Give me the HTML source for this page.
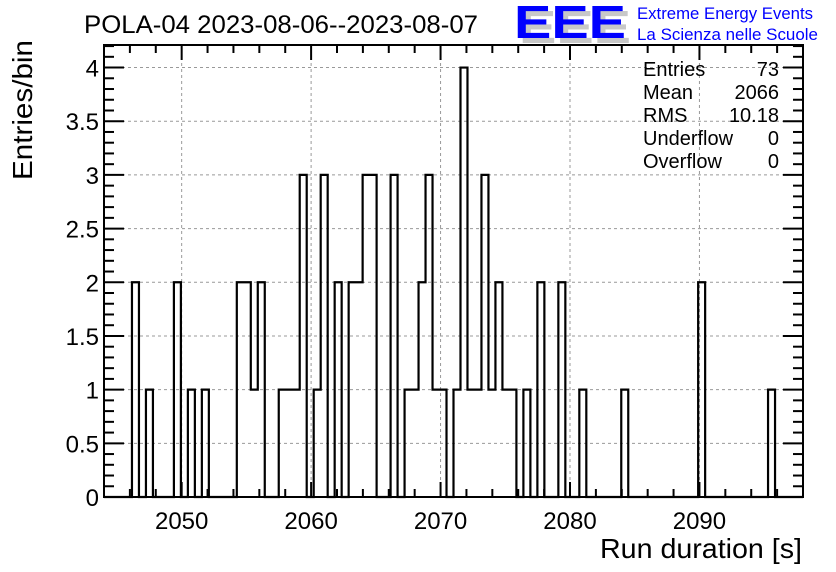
<!DOCTYPE html>
<html><head><meta charset="utf-8"><style>
html,body{margin:0;padding:0;background:#fff;}
svg{display:block;font-family:"Liberation Sans",Arial,sans-serif;}
</style></head><body>
<svg id="chart" width="836" height="572" viewBox="0 0 836 572">
<rect x="0" y="0" width="836" height="572" fill="#fff"/>
<text x="84" y="33" font-size="25" fill="#000" textLength="394" lengthAdjust="spacingAndGlyphs">POLA-04 2023-08-06--2023-08-07</text>
<g>
<text x="519" y="43" font-size="46" font-weight="bold" fill="#c8c8c8" textLength="112" lengthAdjust="spacingAndGlyphs">EEE</text>
<text x="514" y="38" font-size="46" font-weight="bold" fill="#0000ff" textLength="112" lengthAdjust="spacingAndGlyphs">EEE</text>
<text x="637" y="19" font-size="17" fill="#0000ff" textLength="176" lengthAdjust="spacingAndGlyphs">Extreme Energy Events</text>
<text x="637" y="40" font-size="17" fill="#0000ff" textLength="181" lengthAdjust="spacingAndGlyphs">La Scienza nelle Scuole</text>
</g>
<g id="grid"></g>
<g id="hist"></g>
<g id="axes"></g>
<g font-size="20" fill="#000">
<text x="643" y="76">Entries</text>
<text x="779" y="76" text-anchor="end">73</text>
<text x="643" y="99">Mean</text>
<text x="779" y="99" text-anchor="end">2066</text>
<text x="643" y="122">RMS</text>
<text x="779" y="122" text-anchor="end">10.18</text>
<text x="643" y="145">Underflow</text>
<text x="779" y="145" text-anchor="end">0</text>
<text x="643" y="168">Overflow</text>
<text x="779" y="168" text-anchor="end">0</text>
</g>
<text x="802" y="558" font-size="28" text-anchor="end" textLength="202" lengthAdjust="spacingAndGlyphs">Run duration [s]</text>
<text transform="translate(32,180) rotate(-90)" font-size="28" textLength="140" lengthAdjust="spacingAndGlyphs">Entries/bin</text>
</svg>
<script>
const xMin = 2044, xMax = 2098, nBins = 100;
const binIndex = [4,6,10,12,14,19,20,21,22,25,26,27,28,30,31,33,35,36,37,38,41,43,44,45,46,47,48,50,51,52,53,54,55,56,57,58,60,62,65,68,74,85,95];
const binCount = [2,1,2,1,1,2,2,1,2,1,1,1,3,1,3,2,2,2,3,3,3,1,1,2,3,1,1,1,4,1,1,3,1,2,1,1,1,2,2,1,1,2,1];
const xTicks = [2050,2060,2070,2080,2090];
const yTicks = [0,0.5,1,1.5,2,2.5,3,3.5,4];
const yTickLabels = ["0","0.5","1","1.5","2","2.5","3","3.5","4"];
const yMax = 4.21;

const L=104, R=803, T=45, B=497;
const NS="http://www.w3.org/2000/svg";
function sx(v){return L+(v-xMin)/(xMax-xMin)*(R-L);}
function sy(v){return B-v/yMax*(B-T);}
function mk(tag,attrs,parent){const e=document.createElementNS(NS,tag);for(const k in attrs)e.setAttribute(k,attrs[k]);parent.appendChild(e);return e;}

const grid=document.getElementById('grid'), hist=document.getElementById('hist'), axes=document.getElementById('axes');
xTicks.forEach(t=>{const l=mk('line',{x1:sx(t),x2:sx(t),y1:T,y2:B,stroke:'#999','stroke-dasharray':'3,3','stroke-width':1},grid);

});
yTicks.forEach(t=>{if(t===0)return;const l=mk('line',{x1:L,x2:R,y1:sy(t),y2:sy(t),stroke:'#999','stroke-dasharray':'3,3','stroke-width':1},grid);

});

const counts=new Array(nBins).fill(0);
binIndex.forEach((b,i)=>{counts[b]=binCount[i];});
const bw=(xMax-xMin)/nBins;
let d='M'+sx(xMin)+','+sy(0);
for(let i=0;i<nBins;i++){const x0=sx(xMin+i*bw),x1=sx(xMin+(i+1)*bw),y=sy(counts[i]);d+=' L'+x0+','+y+' L'+x1+','+y;}
d+=' L'+sx(xMax)+','+sy(0);
const p=mk('path',{d:d,fill:'none',stroke:'#000','stroke-width':2.2},hist);



const fr=mk('rect',{x:L,y:T,width:R-L,height:B-T,fill:'none',stroke:'#000','stroke-width':2},axes);


for(let v=2046;v<=2096;v+=2){const major=(v%10===0);const len=major?15:8;
const a=mk('line',{x1:sx(v),x2:sx(v),y1:B,y2:B-len,stroke:'#000','stroke-width':2},axes);


const b=mk('line',{x1:sx(v),x2:sx(v),y1:T,y2:T+len,stroke:'#000','stroke-width':2},axes);

}
xTicks.forEach(t=>{const tx=mk('text',{x:sx(t),y:529,'font-size':24,'text-anchor':'middle'},axes);tx.textContent=String(t);

});
for(let k=0;k<=42;k++){const v=k/10;const major=(k%5===0);const len=major?20:10;
const a=mk('line',{x1:L,x2:L+len,y1:sy(v),y2:sy(v),stroke:'#000','stroke-width':2},axes);


const b=mk('line',{x1:R,x2:R-len,y1:sy(v),y2:sy(v),stroke:'#000','stroke-width':2},axes);

}
yTicks.forEach((t,i)=>{const tx=mk('text',{x:99,y:sy(t)+9,'font-size':24,'text-anchor':'end'},axes);tx.textContent=yTickLabels[i];

});
</script>
</body></html>
